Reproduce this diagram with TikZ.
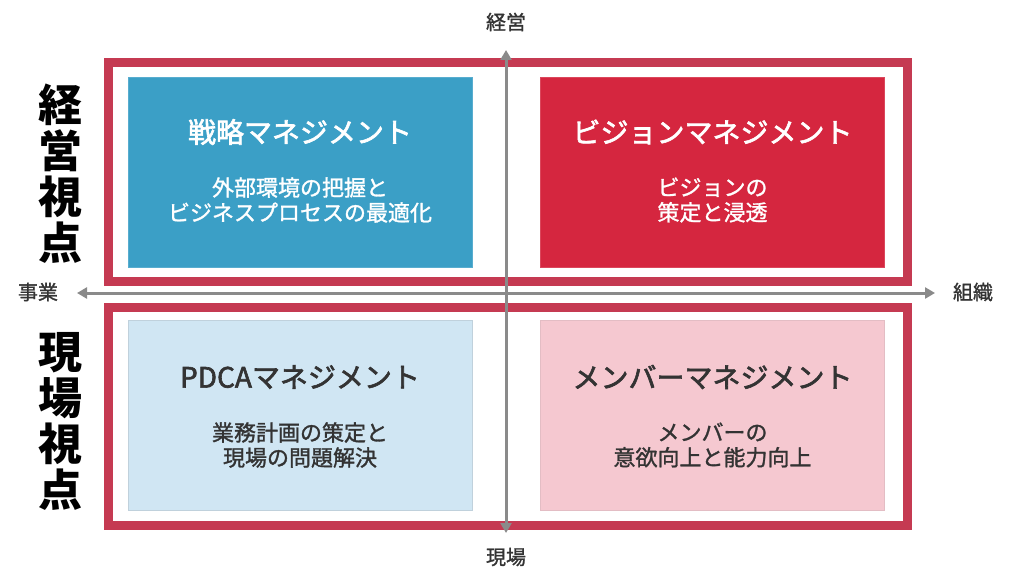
\documentclass[tikz,border=0pt]{standalone}
\usepackage{fontspec}
\setmainfont{Noto Sans CJK JP}
\newfontfamily\titlefont[BoldFont={Noto Sans CJK JP},BoldFeatures={FakeBold=2.2}]{Noto Sans CJK JP}
\newfontfamily\medfont[BoldFont={Noto Sans CJK JP},BoldFeatures={FakeBold=1.3}]{Noto Sans CJK JP}
\usetikzlibrary{arrows.meta}
\definecolor{frameRed}{HTML}{C53A52}
\definecolor{boxBlue}{HTML}{3B9FC6}
\definecolor{boxRed}{HTML}{D5263F}
\definecolor{boxLBlue}{HTML}{D0E6F3}
\definecolor{boxPink}{HTML}{F5C8D0}
\definecolor{axisGray}{HTML}{8A8A8A}
\definecolor{txtDark}{HTML}{333333}
\tikzset{
  frame/.style={draw=frameRed, line width=9pt},
  quad/.style={rectangle, minimum width=344pt, minimum height=190pt, inner sep=0pt, line width=0.8pt},
  qtitle/.style={font=\titlefont\fontsize{28}{32}\selectfont\bfseries, inner sep=0pt},
  qsub/.style={font=\medfont\fontsize{22}{25}\selectfont\bfseries, align=center, inner sep=0pt},
  axis/.style={draw=axisGray, line width=3pt, {Triangle[length=10pt,width=11pt]}-{Triangle[length=10pt,width=11pt]}},
  axlabel/.style={font=\medfont\fontsize{20}{22}\selectfont\bfseries, text=txtDark, inner sep=0pt},
  bigview/.style={font=\fontsize{44}{46}\selectfont\bfseries, align=center, inner sep=0pt, text=black}
}
\begin{document}
\begin{tikzpicture}[x=1pt,y=-1pt]
\useasboundingbox (0,0) rectangle (1024,572);
% frames
\draw[frame] (108,63) rectangle (907,281);
\draw[frame] (108,307) rectangle (907,525);
% quadrant boxes
\node[quad, fill=boxBlue, draw=boxBlue!85!white] (q1) at (300,172) {};
\node[quad, fill=boxRed, draw=boxRed!85!white] (q2) at (712.5,172) {};
\node[quad, fill=boxLBlue, draw=boxLBlue!80!gray] (q3) at (300,415) {};
\node[quad, fill=boxPink, draw=boxPink!85!gray] (q4) at (712.5,415) {};
% texts
\node[qtitle, text=white] (t1) at (300,132) {戦略マネジメント};
\node[qsub, text=white] (s1) at (300,200) {外部環境の把握と\\ビジネスプロセスの最適化};
\node[qtitle, text=white] (t2) at (712.5,132) {ビジョンマネジメント};
\node[qsub, text=white] (s2) at (712.5,200) {ビジョンの\\策定と浸透};
\node[qtitle, text=txtDark] (t3) at (300,377) {PDCAマネジメント};
\node[qsub, text=txtDark] (s3) at (300,445) {業務計画の策定と\\現場の問題解決};
\node[qtitle, text=txtDark] (t4) at (712.5,377) {メンバーマネジメント};
\node[qsub, text=txtDark] (s4) at (712.5,445) {メンバーの\\意欲向上と能力向上};
% axes
\coordinate (axL) at (77,293);
\coordinate (axR) at (935,293);
\coordinate (axT) at (506,50);
\coordinate (axB) at (506,533);
\draw[axis] (axL) -- (axR);
\draw[axis] (axB) -- (axT);
\node[axlabel] (lT) at (506,22) {経営};
\node[axlabel] (lB) at (506,557) {現場};
\node[axlabel] (lL) at (38,292) {事業};
\node[axlabel] (lR) at (973,292) {組織};
% vertical big labels
\node[bigview] (v1) at (60,174) {経\\営\\視\\点};
\node[bigview] (v2) at (60,421) {現\\場\\視\\点};
\end{tikzpicture}
\end{document}
